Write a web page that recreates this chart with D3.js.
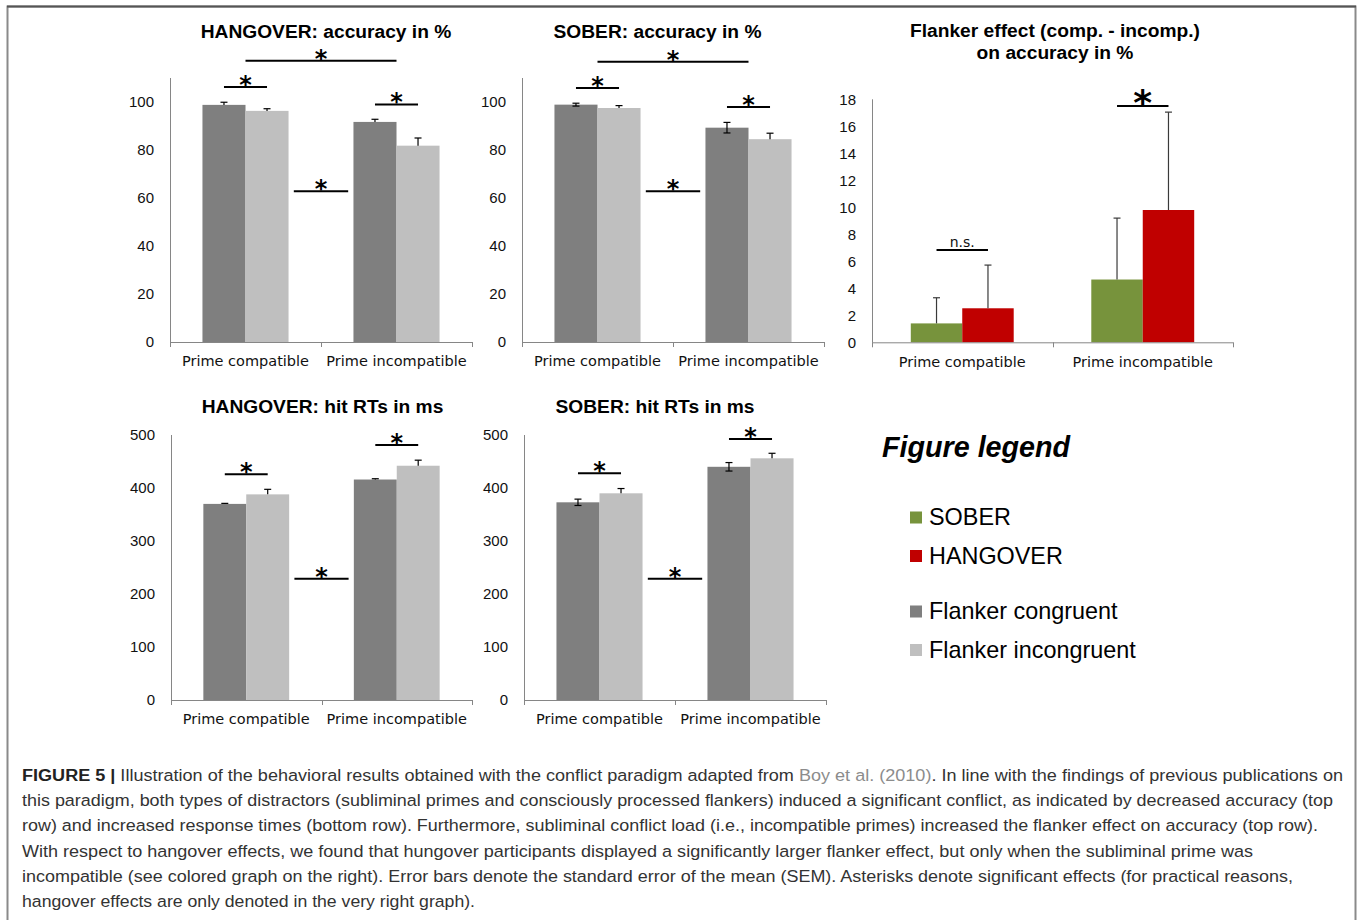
<!DOCTYPE html>
<html>
<head>
<meta charset="utf-8">
<script src="https://cdn.jsdelivr.net/npm/d3@7"></script>
<style>
  html, body { margin: 0; padding: 0; background: #fff; }
  svg { display: block; }
</style>
</head>
<body>
<svg id="fig" width="1360" height="920"></svg>
<script>
// ---------------- DATA ----------------
const categories = ["Prime compatible", "Prime incompatible"];
const flankerSeries = ["Flanker congruent", "Flanker incongruent"];
const groupSeries = ["SOBER", "HANGOVER"];

const accTicks = [0, 20, 40, 60, 80, 100];
const rtTicks = [0, 100, 200, 300, 400, 500];
const effectTicks = [0, 2, 4, 6, 8, 10, 12, 14, 16, 18];

// HANGOVER accuracy (%)
const hangAccCong = [98.8, 91.7];
const hangAccCongErr = [1.1, 1.1];
const hangAccIncong = [96.3, 81.8];
const hangAccIncongErr = [0.9, 3.2];

// SOBER accuracy (%)
const soberAccCong = [98.9, 89.3];
const soberAccCongErr = [0.6, 2.2];
const soberAccIncong = [97.5, 84.5];
const soberAccIncongErr = [1.0, 2.5];

// Flanker effect on accuracy (%)
const effectSober = [1.4, 4.65];
const effectSoberErr = [1.9, 4.55];
const effectHang = [2.52, 9.8];
const effectHangErr = [3.2, 7.25];

// HANGOVER hit RTs (ms)
const hangRtCong = [370, 416];
const hangRtCongErr = [1, 1.5];
const hangRtIncong = [388, 442];
const hangRtIncongErr = [9.5, 10.5];

// SOBER hit RTs (ms)
const soberRtCong = [373, 440];
const soberRtCongErr = [6, 8];
const soberRtIncong = [390, 456];
const soberRtIncongErr = [9, 9.5];

// significance annotations (y in data units)
const hangAccSig = [
  {kind: "within", cat: 0, y: 106.3, label: "*"},
  {kind: "within", cat: 1, y: 99.0, label: "*"},
  {kind: "between", y: 62.8, label: "*"},
  {kind: "main", y: 117.2, label: "*"}
];
const soberAccSig = [
  {kind: "within", cat: 0, y: 105.8, label: "*"},
  {kind: "within", cat: 1, y: 97.9, label: "*"},
  {kind: "between", y: 62.8, label: "*"},
  {kind: "main", y: 116.8, label: "*"}
];
const effectSig = [
  {kind: "within", cat: 0, y: 6.84, label: "n.s."},
  {kind: "within", cat: 1, y: 17.5, label: "*", big: true}
];
const hangRtSig = [
  {kind: "within", cat: 0, y: 426, label: "*"},
  {kind: "within", cat: 1, y: 481, label: "*"},
  {kind: "between", y: 229, label: "*"}
];
const soberRtSig = [
  {kind: "within", cat: 0, y: 428, label: "*"},
  {kind: "within", cat: 1, y: 492.5, label: "*"},
  {kind: "between", y: 229, label: "*"}
];

const captionLines = [
  [{t: "FIGURE 5 | ", b: true}, {t: "Illustration of the behavioral results obtained with the conflict paradigm adapted from "}, {t: "Boy et al. (2010)", link: true}, {t: ". In line with the findings of previous publications on"}],
  [{t: "this paradigm, both types of distractors (subliminal primes and consciously processed flankers) induced a significant conflict, as indicated by decreased accuracy (top"}],
  [{t: "row) and increased response times (bottom row). Furthermore, subliminal conflict load (i.e., incompatible primes) increased the flanker effect on accuracy (top row)."}],
  [{t: "With respect to hangover effects, we found that hungover participants displayed a significantly larger flanker effect, but only when the subliminal prime was"}],
  [{t: "incompatible (see colored graph on the right). Error bars denote the standard error of the mean (SEM). Asterisks denote significant effects (for practical reasons,"}],
  [{t: "hangover effects are only denoted in the very right graph)."}]
];

// ---------------- STYLE / LAYOUT ----------------
const C = {
  dark: "#7f7f7f", light: "#bfbfbf", green: "#77933c", red: "#c00000",
  axis: "#868686", text: "#000"
};
const grayColors = [C.dark, C.light];
const groupColors = [C.green, C.red];

const panels = [
  {title: ["HANGOVER: accuracy in %"], tx: 326, ty: 38, x0: 170, x1: 472, yb: 342, yt: 78, max: 110,
   ticks: accTicks, series: [[hangAccCong, hangAccCongErr], [hangAccIncong, hangAccIncongErr]], colors: grayColors,
   sig: hangAccSig, twoSided: false, errColor: "#000"},
  {title: ["SOBER: accuracy in %"], tx: 657.5, ty: 38, x0: 522, x1: 824, yb: 342, yt: 78, max: 110,
   ticks: accTicks, series: [[soberAccCong, soberAccCongErr], [soberAccIncong, soberAccIncongErr]], colors: grayColors,
   sig: soberAccSig, twoSided: true, errColor: "#000"},
  {title: ["Flanker effect (comp. - incomp.)", "on accuracy in %"], tx: 1055, ty: 37, x0: 872, x1: 1233, yb: 342.3, yt: 99.3, max: 18,
   ticks: effectTicks, series: [[effectSober, effectSoberErr], [effectHang, effectHangErr]], colors: groupColors,
   sig: effectSig, twoSided: false, errColor: "#3a3a3a"},
  {title: ["HANGOVER: hit RTs in ms"], tx: 322.5, ty: 413, x0: 171, x1: 472, yb: 700, yt: 435, max: 500,
   ticks: rtTicks, series: [[hangRtCong, hangRtCongErr], [hangRtIncong, hangRtIncongErr]], colors: grayColors,
   sig: hangRtSig, twoSided: false, errColor: "#000"},
  {title: ["SOBER: hit RTs in ms"], tx: 655, ty: 413, x0: 524, x1: 826, yb: 700, yt: 435, max: 500,
   ticks: rtTicks, series: [[soberRtCong, soberRtCongErr], [soberRtIncong, soberRtIncongErr]], colors: grayColors,
   sig: soberRtSig, twoSided: true, errColor: "#000"}
];

const svg = d3.select("#fig");

// figure frame
svg.append("rect").attr("x", 7.5).attr("y", 6.5).attr("width", 1348).attr("height", 940)
  .attr("fill", "none").attr("stroke", "#8a8a8a").attr("stroke-width", 2);
svg.append("line").attr("x1", 7).attr("x2", 1356).attr("y1", 6.5).attr("y2", 6.5)
  .attr("stroke", "#555").attr("stroke-width", 2);

const sans = "'Liberation Sans', Arial, sans-serif";
const verd = "'DejaVu Sans', Verdana, sans-serif";

panels.forEach(p => {
  const g = svg.append("g");
  const x = d3.scaleBand().domain(categories).range([p.x0, p.x1]).paddingInner(0).paddingOuter(0);
  const bw = x.bandwidth();
  const xs = d3.scaleBand().domain([0, 1]).range([0, bw]).paddingInner(0).paddingOuter(0.754);
  const y = d3.scaleLinear().domain([0, p.max]).range([p.yb, p.yt]);

  // title
  p.title.forEach((t, i) => {
    g.append("text").attr("x", p.tx).attr("y", p.ty + i * 22).attr("text-anchor", "middle")
      .attr("font-family", sans).attr("font-weight", "bold").attr("font-size", 19.2)
      .attr("fill", C.text).text(t);
  });

  // bars
  p.series.forEach((s, si) => {
    const [vals, errs] = s;
    g.selectAll(null).data(categories).enter().append("rect")
      .attr("x", (c) => x(c) + xs(si))
      .attr("y", (c, i) => y(vals[i]))
      .attr("width", xs.bandwidth())
      .attr("height", (c, i) => y(0) - y(vals[i]))
      .attr("fill", p.colors[si]);
  });

  // error bars
  p.series.forEach((s, si) => {
    const [vals, errs] = s;
    categories.forEach((c, i) => {
      const cx = x(c) + xs(si) + xs.bandwidth() / 2;
      const top = y(vals[i] + errs[i]);
      const both = p.twoSided && si === 0;
      const bot = both ? y(vals[i] - errs[i]) : y(vals[i]);
      g.append("line").attr("x1", cx).attr("x2", cx).attr("y1", top).attr("y2", bot)
        .attr("stroke", p.errColor).attr("stroke-width", 1.2);
      g.append("line").attr("x1", cx - 3.5).attr("x2", cx + 3.5).attr("y1", top).attr("y2", top)
        .attr("stroke", p.errColor).attr("stroke-width", 1.2);
      if (both) {
        g.append("line").attr("x1", cx - 3.5).attr("x2", cx + 3.5).attr("y1", bot).attr("y2", bot)
          .attr("stroke", p.errColor).attr("stroke-width", 1.2);
      }
    });
  });

  // y axis
  const ya = g.append("g").attr("transform", `translate(${p.x0},0)`)
    .call(d3.axisLeft(y).tickValues(p.ticks).tickSize(0).tickPadding(16).tickFormat(d3.format("d")));
  ya.select(".domain").attr("stroke", C.axis).attr("d", `M0.5,${p.yb}V${p.yt}`);
  ya.selectAll("text").attr("font-family", sans).attr("font-size", 15).attr("fill", "#111");

  // x axis
  const xa = g.append("g").attr("transform", `translate(0,${p.yb})`)
    .call(d3.axisBottom(x).tickSize(0).tickPadding(14));
  xa.select(".domain").attr("stroke", C.axis).attr("d", `M${p.x0},0.5H${p.x1}`);
  xa.selectAll("text").attr("font-family", verd).attr("font-size", 14.5).attr("fill", "#111");
  const bounds = [p.x0, x(categories[1]), p.x1];
  xa.selectAll(".bnd").data(bounds).enter().append("line").attr("class", "bnd")
    .attr("x1", d => Math.round(d) + 0.5).attr("x2", d => Math.round(d) + 0.5)
    .attr("y1", 0).attr("y2", 5).attr("stroke", C.axis);

  // significance marks
  p.sig.forEach(sg => {
    let xa1, xa2;
    if (sg.kind === "within") {
      const c = categories[sg.cat];
      xa1 = x(c) + xs(0) + xs.bandwidth() / 2;
      xa2 = x(c) + xs(1) + xs.bandwidth() / 2;
    } else if (sg.kind === "main") {
      xa1 = x(categories[0]) + bw / 2;
      xa2 = x(categories[1]) + bw / 2;
    } else {
      const mid = x(categories[1]);
      xa1 = mid - bw * 0.18;
      xa2 = mid + bw * 0.18;
    }
    const ly = y(sg.y);
    g.append("line").attr("x1", xa1).attr("x2", xa2).attr("y1", ly).attr("y2", ly)
      .attr("stroke", "#000").attr("stroke-width", 2);
    const cx = (xa1 + xa2) / 2;
    if (sg.label === "n.s.") {
      g.append("text").attr("x", cx).attr("y", ly - 3).attr("text-anchor", "middle")
        .attr("font-family", verd).attr("font-size", 14).attr("fill", "#111").text(sg.label);
    } else if (sg.big) {
      g.append("text").attr("x", cx).attr("y", ly + 9).attr("text-anchor", "middle")
        .attr("font-family", verd).attr("font-weight", "bold").attr("font-size", 36).attr("fill", "#000").text(sg.label);
    } else {
      g.append("text").attr("x", cx).attr("y", ly + 6).attr("text-anchor", "middle")
        .attr("font-family", verd).attr("font-weight", "bold").attr("font-size", 24).attr("fill", "#000").text(sg.label);
    }
  });
});

// legend
const lg = svg.append("g");
lg.append("text").attr("x", 882).attr("y", 457).attr("font-family", sans).attr("font-weight", "bold")
  .attr("font-style", "italic").attr("font-size", 28.7).attr("fill", "#000").text("Figure legend");
const legendItems = [
  {label: groupSeries[0], color: groupColors[0], y: 525},
  {label: groupSeries[1], color: groupColors[1], y: 563.5},
  {label: flankerSeries[0], color: grayColors[0], y: 619},
  {label: flankerSeries[1], color: grayColors[1], y: 657.5}
];
legendItems.forEach(it => {
  lg.append("rect").attr("x", 910).attr("y", it.y - 13.5).attr("width", 12).attr("height", 12).attr("fill", it.color);
  lg.append("text").attr("x", 929).attr("y", it.y).attr("font-family", sans).attr("font-size", 23.4)
    .attr("fill", "#000").text(it.label);
});

// caption
const captionWidths = [1321, 1311, 1296, 1231, 1271, 453];
const cap = svg.append("g");
captionLines.forEach((line, i) => {
  const t = cap.append("text").attr("x", 22).attr("y", 781 + i * 25.2)
    .attr("font-family", sans).attr("font-size", 17.2).attr("fill", "#333")
    .attr("textLength", captionWidths[i]).attr("lengthAdjust", "spacingAndGlyphs");
  line.forEach(seg => {
    const ts = t.append("tspan").text(seg.t);
    if (seg.b) ts.attr("font-weight", "bold").attr("fill", "#222");
    if (seg.link) ts.attr("fill", "#8c8c8c");
  });
});
</script>
</body>
</html>
